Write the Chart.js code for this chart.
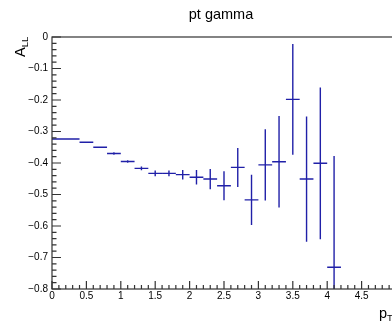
<!DOCTYPE html>
<html>
<head>
<meta charset="utf-8">
<style>
  html, body { margin: 0; padding: 0; background: #fff; overflow: hidden; }
  #asymChart { display: block; }
</style>
<script src="https://cdn.jsdelivr.net/npm/chart.js@4/dist/chart.umd.min.js"></script>
</head>
<body>
<canvas id="asymChart" width="442" height="321"></canvas>
<script>
// bin centres and half widths in pT
const ptCenter = [0.2, 0.5, 0.7, 0.9, 1.1, 1.3, 1.5, 1.7, 1.9, 2.1, 2.3, 2.5, 2.7, 2.9, 3.1, 3.3, 3.5, 3.7, 3.9, 4.1];
const ptHalfWidth = [0.2, 0.1, 0.1, 0.1, 0.1, 0.1, 0.1, 0.1, 0.1, 0.1, 0.1, 0.1, 0.1, 0.1, 0.1, 0.1, 0.1, 0.1, 0.1, 0.1];
// A_LL per bin and its statistical error
const allValues = [-0.324, -0.334, -0.350, -0.370, -0.395, -0.417, -0.433, -0.433, -0.437, -0.445, -0.451, -0.472, -0.414, -0.517, -0.406, -0.396, -0.198, -0.451, -0.401, -0.731];
const allErrors = [0.001, 0.002, 0.002, 0.004, 0.004, 0.006, 0.009, 0.009, 0.015, 0.023, 0.032, 0.046, 0.062, 0.080, 0.113, 0.145, 0.176, 0.199, 0.241, 0.353];
// axis tick values
const xTicks = [0, 0.5, 1, 1.5, 2, 2.5, 3, 3.5, 4, 4.5, 5];
const yTicks = [0, -0.1, -0.2, -0.3, -0.4, -0.5, -0.6, -0.7, -0.8];

const barColor = '#2020a8';
const axisColor = '#333';
const fontFamily = '"Liberation Sans", Arial, sans-serif';

function fmtY(v) {
    if (Math.abs(v) < 1e-9) return '0';
    return (v < 0 ? '\u2212' : '') + Math.abs(v).toFixed(1);
}

// horizontal bin-width bars and vertical error bars
const errorBarPlugin = {
    id: 'errorBars',
    afterDatasetsDraw(chart) {
        const { ctx, chartArea, scales } = chart;
        const xs = scales.x, ys = scales.y;
        ctx.save();
        ctx.beginPath();
        ctx.rect(chartArea.left, chartArea.top, chartArea.right - chartArea.left, chartArea.bottom - chartArea.top);
        ctx.clip();
        ctx.strokeStyle = barColor;
        ctx.lineWidth = 1.4;
        chart.data.datasets[0].data.forEach(p => {
            const px = xs.getPixelForValue(p.x);
            const py = ys.getPixelForValue(p.y);
            ctx.beginPath();
            ctx.moveTo(xs.getPixelForValue(p.x - p.xErr), py);
            ctx.lineTo(xs.getPixelForValue(p.x + p.xErr), py);
            ctx.moveTo(px, ys.getPixelForValue(p.y + p.yErr));
            ctx.lineTo(px, ys.getPixelForValue(p.y - p.yErr));
            ctx.stroke();
        });
        ctx.restore();
    }
};

// frame with inward major/minor ticks, plus axis titles
const framePlugin = {
    id: 'frame',
    afterDraw(chart) {
        const { ctx, chartArea: a, scales } = chart;
        const xs = scales.x, ys = scales.y;
        ctx.save();
        ctx.strokeStyle = axisColor;
        ctx.lineWidth = 1.2;
        ctx.strokeRect(a.left, a.top, a.right - a.left, a.bottom - a.top);

        ctx.beginPath();
        // x ticks: major every 0.5, minor every 0.1
        for (let i = 0; i <= 50; i++) {
            const v = i * 0.1;
            const px = xs.getPixelForValue(v);
            if (px > a.right + 0.5) break;
            const len = i % 5 === 0 ? 8 : 4;
            ctx.moveTo(px, a.bottom);
            ctx.lineTo(px, a.bottom - len);
        }
        // y ticks: major every 0.1, minor every 0.02
        for (let i = 0; i <= 40; i++) {
            const v = -i * 0.02;
            const py = ys.getPixelForValue(v);
            const len = i % 5 === 0 ? 9 : 4.5;
            ctx.moveTo(a.left, py);
            ctx.lineTo(a.left + len, py);
        }
        ctx.stroke();

        ctx.fillStyle = '#000';
        // y title A_LL, rotated
        ctx.save();
        ctx.translate(25, 57);
        ctx.rotate(-Math.PI / 2);
        ctx.textBaseline = 'alphabetic';
        ctx.textAlign = 'left';
        ctx.font = '14.5px ' + fontFamily;
        ctx.fillText('A', 0, 0);
        const aw = ctx.measureText('A').width;
        ctx.font = '9.5px ' + fontFamily;
        ctx.fillText('LL', aw, 3);
        ctx.restore();

        // x title p_T
        ctx.textBaseline = 'alphabetic';
        ctx.textAlign = 'left';
        ctx.font = '14.5px ' + fontFamily;
        ctx.fillText('p', 379, 318);
        const pw = ctx.measureText('p').width;
        ctx.font = '9.5px ' + fontFamily;
        ctx.fillText('T', 379 + pw, 321);
        ctx.restore();
    }
};

const points = ptCenter.map((x, i) => ({
    x: x,
    y: allValues[i],
    xErr: ptHalfWidth[i],
    yErr: allErrors[i]
}));

new Chart(document.getElementById('asymChart').getContext('2d'), {
    type: 'scatter',
    data: {
        datasets: [{
            label: 'pt gamma',
            data: points,
            pointRadius: 0,
            showLine: false
        }]
    },
    options: {
        responsive: false,
        animation: false,
        layout: { padding: 0 },
        plugins: {
            legend: { display: false },
            tooltip: { enabled: false },
            title: {
                display: true,
                text: 'pt gamma',
                color: '#000',
                font: { family: fontFamily, size: 14.5, weight: 'normal' },
                padding: { top: 6.3, bottom: 13.3 }
            }
        },
        scales: {
            x: {
                type: 'linear',
                min: 0,
                max: 5,
                afterFit(scale) { scale.height = 32; },
                afterBuildTicks(scale) { scale.ticks = xTicks.map(v => ({ value: v })); },
                grid: { display: false, drawTicks: false },
                border: { display: false },
                ticks: {
                    autoSkip: false,
                    maxRotation: 0,
                    padding: 1,
                    color: '#000',
                    font: { family: fontFamily, size: 10 },
                    callback: v => String(+v.toFixed(1))
                }
            },
            y: {
                type: 'linear',
                min: -0.8,
                max: 0,
                afterFit(scale) { scale.width = 52; },
                afterBuildTicks(scale) { scale.ticks = yTicks.map(v => ({ value: v })); },
                grid: { display: false, drawTicks: false },
                border: { display: false },
                ticks: {
                    padding: 4,
                    color: '#000',
                    font: { family: fontFamily, size: 10 },
                    callback: v => fmtY(v)
                }
            },
            // empty right-hand margin of the pad
            yPad: {
                type: 'linear',
                position: 'right',
                min: 0,
                max: 1,
                afterFit(scale) { scale.width = 46; },
                grid: { display: false, drawTicks: false },
                border: { display: false },
                ticks: { display: false }
            }
        }
    },
    plugins: [errorBarPlugin, framePlugin]
});
</script>
</body>
</html>
